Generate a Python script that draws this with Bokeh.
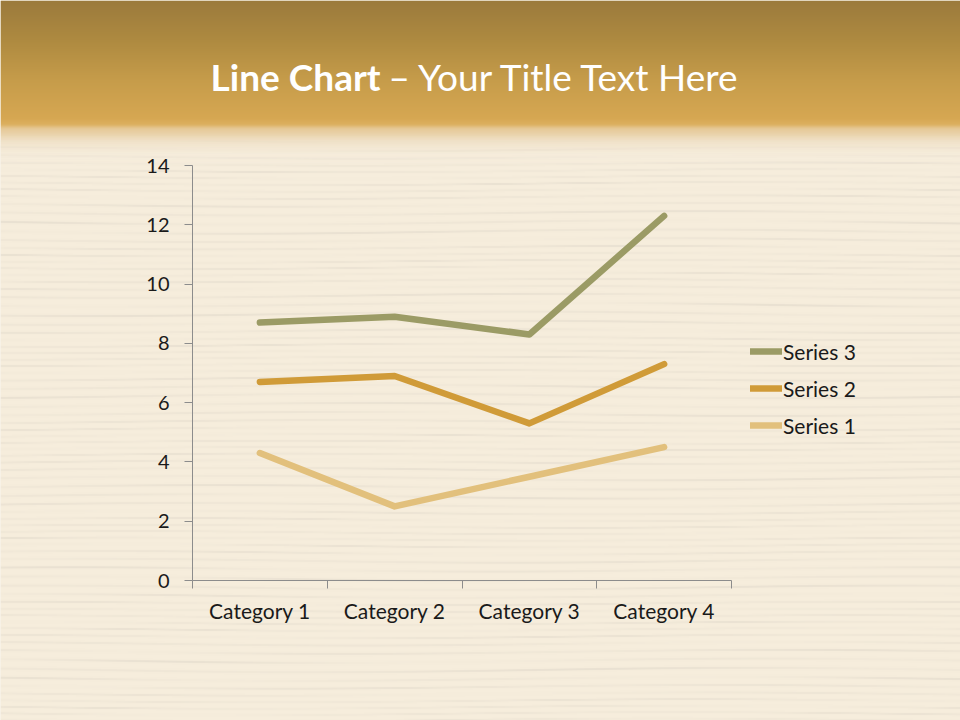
import numpy as np
from bokeh.plotting import figure
from bokeh.models import (Range1d, FixedTicker, Legend, LegendItem, LinearAxis, Grid)
from bokeh.core.properties import value
from bokeh.embed import file_html
from bokeh.resources import INLINE

# ---- data ----
categories = ["Category 1", "Category 2", "Category 3", "Category 4"]
series_names = ["Series 1", "Series 2", "Series 3"]
series1 = [4.3, 2.5, 3.5, 4.5]
series2 = [6.7, 6.9, 5.3, 7.3]
series3 = [8.7, 8.9, 8.3, 12.3]
y_ticks = [0, 2, 4, 6, 8, 10, 12, 14]

title_bold = "Line Chart"
title_rest = "\u2013 Your Title Text Here"

# ---- style / layout (pixel placement of the plot area) ----
FONT = "Lato"
BG = (243, 233, 214)
BG_HEX = "#%02X%02X%02X" % BG
colors = ["#E2C07C", "#D09B38", "#9B9B65"]
W, H = 960, 720
PX_LEFT, PX_RIGHT, PX_BOTTOM, PX_TOP = 192, 731, 580, 165
YMAX = 14
NCAT = len(categories)
sx = (PX_RIGHT - PX_LEFT) / NCAT
sy = (PX_BOTTOM - PX_TOP) / YMAX


def dx(px):
    return (px - PX_LEFT) / sx


def dy(py):
    return (PX_BOTTOM - py) / sy


p = figure(width=W, height=H, x_range=Range1d(dx(0), dx(W)), y_range=Range1d(dy(H), dy(0)),
           output_backend="svg", toolbar_location=None,
           x_axis_type=None, y_axis_type=None, min_border=0,
           min_border_left=0, min_border_right=0, min_border_top=0, min_border_bottom=0)
p.background_fill_color = BG_HEX
p.border_fill_color = BG_HEX
p.outline_line_color = None

# ---- subtle wood-grain background texture (style only) ----
TEX_TOP = 140
tex_rows = H - TEX_TOP
tex_cols = 240
yy = np.arange(tex_rows)[:, None] + TEX_TOP
xx = np.linspace(0, 1, tex_cols)[None, :]
phase = yy * 0.83 + 2.2 * np.sin(yy * 0.071) + 1.5 * np.sin(xx * 7.0 + yy * 0.013)
streak = np.clip(np.sin(phase), 0, 1) ** 10
fade = 0.5 + 0.5 * np.sin(xx * 9.3 + yy * 0.29) * np.sin(xx * 3.1 - yy * 0.11 + 1.0)
dark = 22 * streak * fade
tex = np.zeros((tex_rows, tex_cols), dtype=np.uint32)
tv = tex.view(dtype=np.uint8).reshape((tex_rows, tex_cols, 4))
base = (246, 237, 220)
tcol = [base[0] - dark, base[1] - dark * 0.95, base[2] - dark * 0.8]
for k in range(3):
    tv[:, :, k] = np.clip(tcol[k], 0, 255).astype(np.uint8)[::-1, :]
tv[:, :, 3] = 255
p.image_rgba(image=[tex], x=dx(0), y=dy(H), dw=dx(W) - dx(0), dh=dy(TEX_TOP) - dy(H))

# ---- header gradient (style only) ----
HEAD_PX = 165
stops_y = [0, 40, 80, 118, 124, 128, 140, 155, 165]
stops_c = [(155, 122, 60), (174, 138, 64), (198, 156, 74), (214, 167, 82),
           (220, 176, 96), (230, 200, 150), (238, 222, 194), (245, 235, 217), (246, 237, 220)]
img = np.zeros((HEAD_PX, 1), dtype=np.uint32)
view = img.view(dtype=np.uint8).reshape((HEAD_PX, 1, 4))
for r in range(HEAD_PX):
    py = HEAD_PX - r - 0.5
    for k in range(3):
        view[r, 0, k] = int(round(np.interp(py, stops_y, [s[k] for s in stops_c])))
    view[r, 0, 3] = int(round(np.interp(py, [0, 135, 165], [255, 255, 0])))
p.image_rgba(image=[img], x=dx(0), y=dy(HEAD_PX), dw=dx(W) - dx(0), dh=dy(0) - dy(HEAD_PX))

# ---- title ----
p.text(x=[dx(380)], y=[dy(76)], text=[title_bold], text_align="right",
       text_baseline="alphabetic", text_font=value(FONT), text_font_style="bold",
       text_font_size="37px", text_color="white")
p.text(x=[dx(388)], y=[dy(76)], text=[title_rest], text_align="left",
       text_baseline="alphabetic", text_font=value(FONT),
       text_font_size="37px", text_color="white")

# ---- axes at fixed locations ----
xs = [i + 0.5 for i in range(NCAT)]
xa = LinearAxis(fixed_location=0, bounds=(0, NCAT),
                ticker=FixedTicker(ticks=xs, minor_ticks=list(range(NCAT + 1))))
xa.major_label_overrides = {x: c for x, c in zip(xs, categories)}
xa.major_tick_out = 0
xa.major_tick_in = 0
xa.minor_tick_out = 8
xa.minor_tick_in = 0
xa.minor_tick_line_color = "#8C8C8C"
xa.axis_line_color = "#8C8C8C"
xa.major_label_text_font = FONT
xa.major_label_text_font_size = "21px"
xa.major_label_text_color = "#1A1A1A"
xa.major_label_standoff = 9
p.add_layout(xa, "below")

ya = LinearAxis(fixed_location=0, bounds=(0, YMAX),
                ticker=FixedTicker(ticks=y_ticks, minor_ticks=[]))
ya.major_tick_out = 8
ya.major_tick_in = 0
ya.major_tick_line_color = "#8C8C8C"
ya.axis_line_color = "#8C8C8C"
ya.major_label_text_font = FONT
ya.major_label_text_font_size = "20px"
ya.major_label_text_color = "#1A1A1A"
ya.major_label_standoff = 15
p.add_layout(ya, "left")

grid = Grid(dimension=1, ticker=ya.ticker, grid_line_color="#B3AEA6", grid_line_width=1,
            bounds=(0, YMAX))
grid.cross_bounds = (0, NCAT)
p.add_layout(grid)

# ---- series ----
renderers = []
for vals, col in zip([series1, series2, series3], colors):
    r = p.line(xs, vals, line_color=col, line_width=6.5, line_cap="round", line_join="round")
    renderers.append(r)

items = [LegendItem(label=series_names[i], renderers=[renderers[i]]) for i in [2, 1, 0]]
legend = Legend(items=items, location=(750, H - 437.5), orientation="vertical",
                glyph_width=32, glyph_height=20, label_height=20, spacing=12,
                label_standoff=1, padding=0, margin=0,
                label_text_font=FONT, label_text_font_size="21px",
                label_text_color="#1A1A1A", background_fill_alpha=0,
                border_line_color=None)
p.add_layout(legend)

open("out.html", "w").write(file_html(p, INLINE))
